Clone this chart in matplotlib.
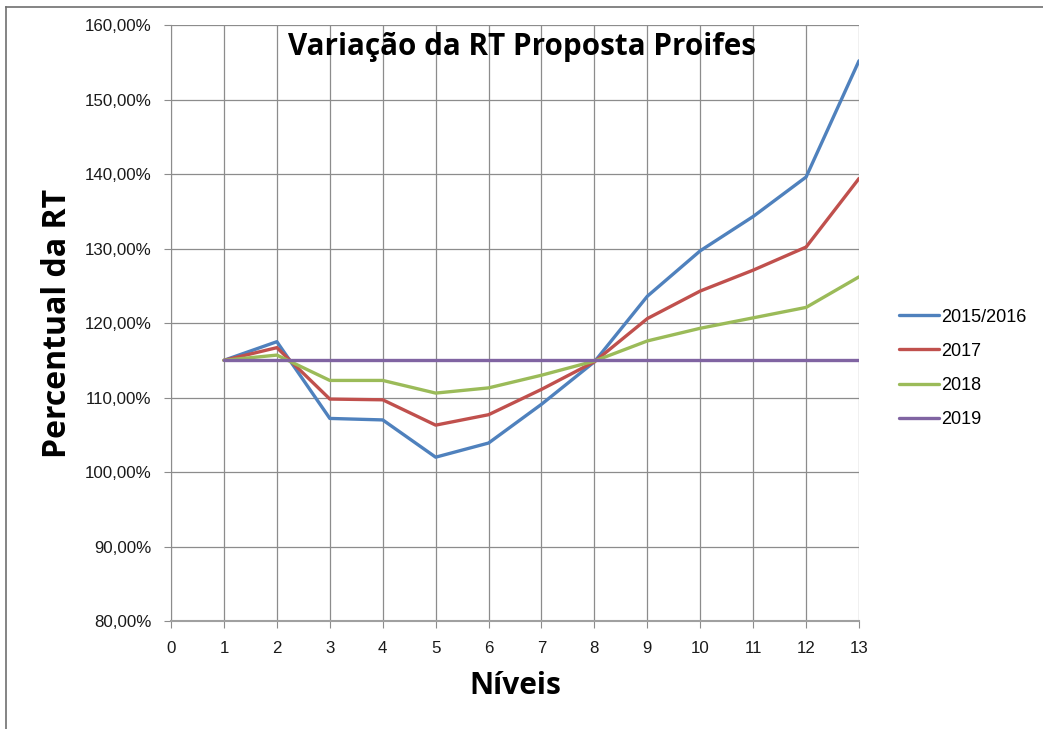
import matplotlib
matplotlib.use("Agg")
import matplotlib.pyplot as plt
from matplotlib.lines import Line2D
from matplotlib.ticker import FuncFormatter, MultipleLocator

niveis = list(range(1, 14))
rt_2015_2016 = [115.0, 117.5, 107.2, 107.0, 102.0, 103.9, 109.1, 114.8, 123.6, 129.7, 134.3, 139.6, 155.2]
rt_2017 = [115.0, 116.7, 109.8, 109.7, 106.3, 107.7, 111.1, 114.8, 120.6, 124.3, 127.1, 130.2, 139.4]
rt_2018 = [115.0, 115.7, 112.3, 112.3, 110.6, 111.3, 113.0, 114.9, 117.6, 119.3, 120.7, 122.1, 126.2]
rt_2019 = [115.0] * 13

series = [
    ("2015/2016", rt_2015_2016, "#4F81BD"),
    ("2017", rt_2017, "#C0504D"),
    ("2018", rt_2018, "#9BBB59"),
    ("2019", rt_2019, "#8064A2"),
]

regular = ["Liberation Sans", "DejaVu Sans"]
bold = ["Open Sans", "DejaVu Sans"]

fig = plt.figure(figsize=(10.43, 7.29), dpi=100)
ax = fig.add_axes([0.164, 0.148, 0.6596, 0.8177])

for name, vals, col in series:
    ax.plot(niveis, vals, color=col, lw=2.4, label=name, solid_capstyle="round")

ax.set_xlim(0, 13)
ax.set_ylim(80, 160)
ax.xaxis.set_major_locator(MultipleLocator(1))
ax.yaxis.set_major_locator(MultipleLocator(10))
ax.yaxis.set_major_formatter(FuncFormatter(lambda v, p: f"{v:.2f}%".replace(".", ",")))
ax.grid(True, color="#8c8c8c", lw=0.9)
ax.set_axisbelow(True)
for s in ["top", "right"]:
    ax.spines[s].set_visible(False)
ax.spines["left"].set_color("#8c8c8c")
ax.spines["bottom"].set_color("#a0a0a0")
ax.spines["bottom"].set_linewidth(1.5)
ax.tick_params(axis="both", colors="#8c8c8c", labelcolor="#1a1a1a", length=5, labelsize=12.2)
ax.tick_params(axis="x", pad=9)
ax.tick_params(axis="y", pad=9)
for lab in ax.get_xticklabels() + ax.get_yticklabels():
    lab.set_family(regular)

ax.set_title("Variação da RT Proposta Proifes", family=bold, fontweight="bold",
             fontsize=21.3, x=0.51, y=0.935)
ax.set_xlabel("Níveis", family=bold, fontweight="bold", fontsize=21.5, labelpad=11)
ax.set_ylabel("Percentual da RT", family=bold, fontweight="bold", fontsize=23, labelpad=8)

leg = ax.legend(loc="center left", bbox_to_anchor=(1.035, 0.424), frameon=False,
                prop={"family": regular, "size": 13}, handlelength=2.2,
                labelspacing=0.95, handletextpad=0.12)

# moldura da imagem
fig.add_artist(Line2D([0.006, 0.006], [0.0, 0.99], color="#707070", lw=1.2))
fig.add_artist(Line2D([0.006, 1.0], [0.99, 0.99], color="#707070", lw=1.2))

fig.savefig("out.png", dpi=100)
